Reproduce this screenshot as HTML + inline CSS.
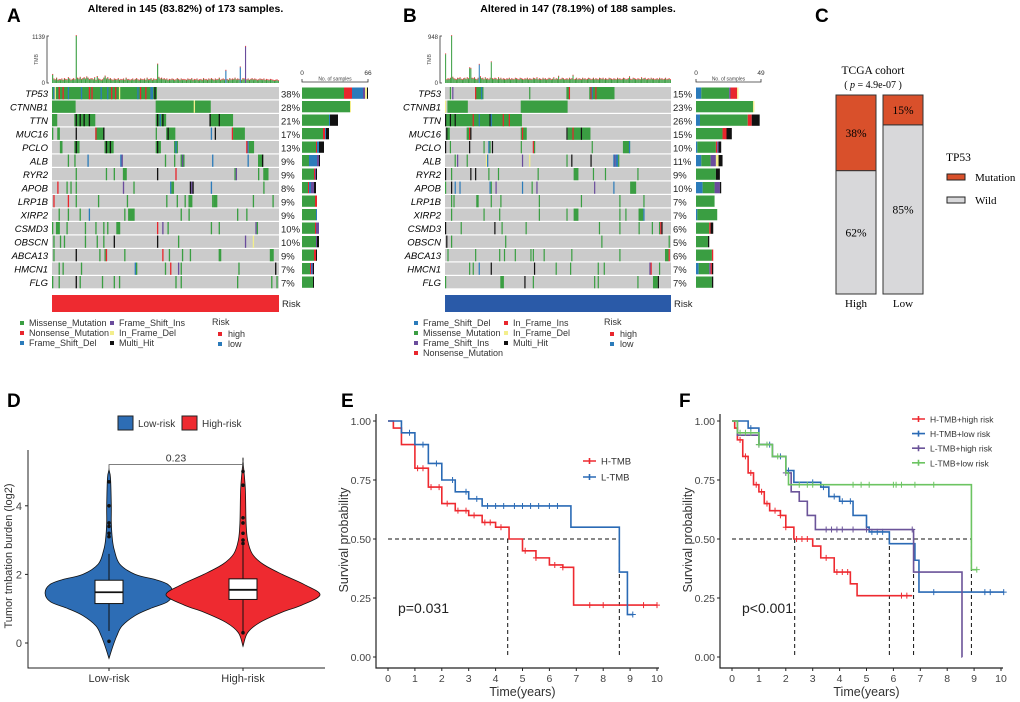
<!DOCTYPE html>
<html><head><meta charset="utf-8"><style>
html,body{margin:0;padding:0;background:#fff;}
svg{display:block;font-family:"Liberation Sans",sans-serif;}
</style></head><body>
<svg id="fig" width="1020" height="702" viewBox="0 0 1020 702" xmlns="http://www.w3.org/2000/svg">
<rect width="1020" height="702" fill="#fff"/>
<g font-weight="bold" font-size="19">
<text x="7" y="22">A</text>
<text x="403" y="22">B</text>
<text x="815" y="22">C</text>
<text x="7" y="407">D</text>
<text x="341" y="407">E</text>
<text x="679" y="407">F</text>
</g>
</svg>
<script>
const NS='http://www.w3.org/2000/svg';
const svg=document.getElementById('fig');
function mk(tag,attrs,parent){const e=document.createElementNS(NS,tag);for(const k in attrs)e.setAttribute(k,attrs[k]);(parent||svg).appendChild(e);return e;}
function tx(x,y,s,attrs,parent){const e=mk('text',Object.assign({x:x,y:y},attrs||{}),parent);e.textContent=s;return e;}
const COL={g:'#3a9e42',r:'#e8262d',b:'#2b7bba',p:'#6a4c9c',y:'#f3ee8c',k:'#111111'};

/* ---------------- Oncoplot data ---------------- */
const genesA=['TP53','CTNNB1','TTN','MUC16','PCLO','ALB','RYR2','APOB','LRP1B','XIRP2','CSMD3','OBSCN','ABCA13','HMCN1','FLG'];
const pctA=['38%','28%','21%','17%','13%','9%','9%','8%','9%','9%','10%','10%','9%','7%','7%'];
const genesB=['TP53','CTNNB1','TTN','MUC16','PCLO','ALB','RYR2','APOB','LRP1B','XIRP2','CSMD3','OBSCN','ABCA13','HMCN1','FLG'];
const pctB=['15%','23%','26%','15%','10%','11%','9%','10%','7%','7%','6%','5%','6%','7%','7%'];
// cells: [start,end,type]
const cellsA=[
[[0,79,'g'],[1,1,'b'],[2,2,'y'],[5,5,'r'],[8,8,'r'],[12,12,'b'],[22,22,'b'],[28,28,'r'],[30,30,'r'],[37,37,'b'],[42,42,'b'],[45,45,'r'],[48,48,'r'],[51,51,'y'],[65,65,'b'],[67,67,'r'],[71,71,'r'],[75,75,'b'],[76,76,'b'],[78,78,'k']],
[[0,17,'g'],[79,120,'g'],[108,108,'y']],
[[0,3,'g'],[17,32,'g'],[18,18,'k'],[21,21,'k'],[24,24,'k'],[28,28,'k'],[79,86,'g'],[80,80,'k'],[82,82,'b'],[84,84,'k'],[120,137,'g'],[120,120,'k'],[127,127,'k']],
[[0,0,'g'],[4,5,'g'],[18,18,'k'],[33,39,'g'],[33,33,'r'],[39,39,'k'],[79,79,'g'],[87,93,'g'],[88,88,'k'],[121,121,'b'],[124,124,'k'],[137,137,'r'],[138,146,'g']],
[[6,7,'g'],[17,20,'g'],[18,18,'k'],[40,46,'g'],[41,41,'k'],[44,44,'k'],[79,82,'g'],[80,80,'k'],[93,95,'g'],[94,94,'b'],[148,148,'r'],[149,149,'b'],[150,153,'g']],
[[12,12,'g'],[17,17,'g'],[27,27,'b'],[52,52,'b'],[53,53,'p'],[86,86,'g'],[93,93,'g'],[98,100,'g'],[99,99,'p'],[122,122,'b'],[149,149,'b'],[157,160,'g'],[160,160,'k']],
[[18,18,'g'],[41,41,'g'],[47,47,'g'],[54,56,'g'],[80,80,'k'],[94,94,'r'],[139,139,'g'],[140,140,'p'],[157,157,'g'],[161,164,'g']],
[[4,4,'r'],[11,11,'g'],[14,14,'g'],[18,18,'g'],[54,54,'p'],[62,62,'g'],[90,90,'b'],[91,92,'g'],[105,105,'k'],[106,106,'p'],[107,107,'k'],[121,121,'b'],[161,161,'g']],
[[1,1,'r'],[12,12,'r'],[18,18,'g'],[35,35,'g'],[57,57,'g'],[87,87,'g'],[95,95,'g'],[101,101,'g'],[104,106,'g'],[122,122,'g'],[123,125,'g'],[153,153,'g'],[168,168,'g']],
[[5,5,'g'],[12,12,'g'],[21,21,'g'],[28,28,'b'],[55,55,'g'],[58,62,'g'],[98,98,'g'],[104,104,'g'],[141,141,'g'],[148,148,'g']],
[[0,0,'g'],[3,5,'g'],[11,11,'g'],[25,25,'g'],[33,33,'g'],[39,39,'g'],[42,42,'g'],[49,51,'g'],[80,80,'r'],[84,84,'p'],[88,88,'g'],[121,121,'g'],[127,127,'g'],[155,155,'p'],[156,156,'g']],
[[1,1,'g'],[6,6,'g'],[9,9,'g'],[25,25,'g'],[34,34,'g'],[39,39,'g'],[47,47,'k'],[80,80,'k'],[96,96,'g'],[147,147,'p'],[153,153,'y']],
[[1,1,'g'],[18,18,'k'],[36,36,'g'],[40,40,'g'],[41,41,'r'],[55,55,'g'],[84,84,'r'],[89,89,'g'],[99,99,'g'],[105,105,'g'],[127,128,'g'],[166,168,'g']],
[[5,5,'g'],[8,8,'g'],[22,22,'g'],[63,63,'b'],[64,64,'g'],[86,86,'g'],[90,90,'r'],[96,96,'p'],[98,98,'g'],[142,142,'g'],[170,170,'k']],
[[0,0,'g'],[5,5,'g'],[18,18,'k'],[21,21,'g'],[38,38,'g'],[47,47,'g'],[51,51,'g'],[94,94,'g'],[98,98,'g'],[141,141,'g'],[167,167,'g'],[171,171,'g']]
];
const cellsB=[
[[4,4,'g'],[6,6,'p'],[25,31,'g'],[25,25,'r'],[30,30,'b'],[70,70,'g'],[101,103,'g'],[103,103,'r'],[120,140,'g'],[121,121,'r'],[122,122,'b'],[125,125,'r']],
[[0,0,'y'],[2,18,'g'],[63,101,'g']],
[[0,63,'g'],[0,0,'k'],[4,4,'k'],[8,8,'k'],[23,23,'r'],[28,28,'b'],[37,37,'k'],[38,38,'b'],[48,48,'r'],[53,53,'r']],
[[1,3,'g'],[1,1,'k'],[18,20,'g'],[20,20,'r'],[21,21,'k'],[63,67,'g'],[64,64,'r'],[101,101,'k'],[102,120,'g'],[106,106,'r'],[113,113,'k']],
[[0,0,'k'],[4,4,'g'],[20,20,'k'],[32,32,'g'],[36,36,'b'],[37,37,'g'],[39,39,'k'],[63,63,'g'],[73,73,'r'],[74,74,'g'],[122,122,'g'],[148,153,'g'],[153,153,'b']],
[[8,8,'g'],[10,10,'p'],[18,18,'g'],[34,34,'y'],[35,35,'b'],[64,64,'p'],[70,70,'y'],[101,101,'g'],[105,105,'k'],[121,121,'k'],[140,140,'b'],[141,141,'p'],[142,143,'b'],[144,144,'g']],
[[0,0,'k'],[5,5,'g'],[21,21,'k'],[25,25,'k'],[36,36,'g'],[44,44,'g'],[77,77,'g'],[107,110,'g'],[123,123,'g'],[133,133,'g'],[160,160,'g']],
[[0,0,'g'],[5,5,'k'],[8,8,'b'],[12,12,'b'],[37,37,'b'],[38,38,'g'],[42,42,'p'],[64,64,'b'],[72,72,'g'],[76,76,'p'],[124,124,'p'],[140,140,'b'],[154,158,'g']],
[[5,5,'g'],[7,7,'g'],[26,27,'g'],[38,38,'g'],[46,46,'g'],[78,78,'g'],[113,113,'g'],[145,145,'g'],[165,165,'g']],
[[5,5,'g'],[32,32,'g'],[45,45,'g'],[78,78,'g'],[101,101,'g'],[107,110,'g'],[145,145,'g'],[150,150,'g'],[161,164,'g'],[165,165,'b']],
[[0,0,'k'],[13,13,'g'],[41,41,'k'],[47,47,'g'],[67,67,'g'],[128,128,'g'],[145,145,'g'],[161,161,'g'],[172,172,'g'],[178,178,'g'],[179,179,'r'],[180,180,'k']],
[[1,1,'k'],[5,5,'g'],[50,50,'g'],[130,130,'g'],[186,186,'g']],
[[2,2,'g'],[25,25,'g'],[45,45,'g'],[49,49,'g'],[58,58,'g'],[71,71,'g'],[73,73,'g'],[82,82,'g'],[105,105,'g'],[145,145,'g'],[183,185,'g'],[186,186,'r']],
[[20,20,'g'],[23,23,'g'],[28,28,'b'],[38,38,'k'],[74,74,'k'],[92,92,'g'],[104,104,'g'],[127,127,'g'],[132,132,'g'],[170,170,'p'],[171,171,'r'],[178,178,'g']],
[[0,0,'g'],[46,48,'g'],[66,66,'k'],[73,73,'g'],[124,124,'g'],[127,127,'g'],[160,160,'g'],[173,176,'g'],[177,177,'k']]
];
// sample counts per gene by type (side bars)
const barsA=[
{g:42,r:8,b:11,p:2,y:2,k:1},{g:48,y:1},{g:27,b:1,k:8},{g:21,r:2,b:1,k:3},{g:14,r:1,b:2,k:5},
{g:7,b:8,p:2,k:1},{g:12,r:1,p:1,k:1},{g:6,r:1,b:2,p:3,k:2},{g:13,r:2},{g:14,b:1},
{g:13,r:1,p:3},{g:14,p:1,k:2},{g:12,r:2,k:1},{g:8,r:1,b:1,p:1,k:1},{g:11,k:1}];
const barsB=[
{b:4,g:21,p:1,r:5,y:1},{g:43,y:1},{b:3,g:36,r:3,k:6},{g:20,r:3,k:4},{b:1,g:14,r:1,p:1,k:2},
{b:4,g:7,p:4,y:2,k:3},{g:15,k:3},{b:5,g:9,p:4,k:1},{g:14},{b:1,g:15},
{g:10,r:1,k:2},{g:9,k:1},{g:12,r:1},{b:2,g:8,p:1,r:1,k:1},{g:12,k:1}];
const tmbA=[200,90,70,110,60,80,70,90,60,100,
80,70,120,90,60,80,100,70,1139,110,
90,130,80,100,120,90,140,110,80,90,
100,70,120,60,150,90,80,60,70,110,
160,90,120,80,100,70,60,90,80,70,
100,60,80,70,90,60,110,70,80,60,
70,90,60,80,100,70,60,90,80,70,
90,60,110,70,80,100,60,90,70,80,
450,130,90,110,80,100,70,90,60,80,
70,90,80,60,70,100,80,60,90,70,
80,70,60,90,80,70,100,60,80,70,
90,60,70,80,60,100,70,80,60,90,
70,100,80,60,90,70,80,110,60,80,
90,70,300,80,60,100,70,90,80,110,
70,90,80,380,60,100,90,880,70,90,
60,80,100,70,90,80,60,70,90,80,
70,90,60,80,70,60,80,70,60,50,
60,70,50];
const tmbAtype={132:'b',143:'b',147:'p'};
const tmbB=[580,60,80,70,90,948,110,80,70,60,
90,80,100,70,60,80,90,70,100,80,
300,290,90,80,100,70,60,90,370,120,
80,90,60,100,70,80,60,90,420,80,
70,90,80,60,100,70,90,60,80,70,
60,80,70,90,60,80,70,60,90,80,
70,60,90,80,70,60,80,70,90,60,
80,70,60,90,80,70,100,60,80,70,
60,90,70,80,60,70,90,80,60,70,
100,60,80,70,130,60,70,90,80,60,
70,80,60,90,70,80,150,60,70,90,
60,80,70,60,90,70,80,60,70,90,
80,60,70,90,60,80,70,60,90,80,
70,90,60,80,70,60,90,80,70,60,
80,70,60,90,70,80,60,70,90,80,
60,70,80,120,70,60,90,80,70,60,
80,70,60,100,70,80,90,60,70,80,
60,90,70,80,60,70,80,60,90,70,
80,60,70,90,60,70,80,60];
const tmbBtype={28:'b'};

function drawOnco(c){
  const g=mk('g',{});
  
  
  const n=c.n, w=(c.x1-c.x0)/n;
  const t=tx((c.x0+c.x1)/2+20,12,c.title,{'font-size':'10.5','font-weight':'bold','text-anchor':'middle'},g);
  
  
  // TMB
  const tb=36,bb=83;
  const ax=mk('path',{d:`M${c.x0-3} ${tb}h-2V${bb}h2`,stroke:'#333','stroke-width':'0.8',fill:'none'},g);
  
  
  const l1=tx(c.x0-7,tb+3,String(c.tmbMax),{'font-size':'6','text-anchor':'end',fill:'#333'},g);
  
  
  const l0=tx(c.x0-7,bb+2,'0',{'font-size':'6','text-anchor':'end',fill:'#333'},g);
  
  
  const lt=tx(0,0,'TMB',{'font-size':'5','text-anchor':'middle',fill:'#555',transform:`translate(${c.x0-14},${(tb+bb)/2}) rotate(-90)`},g);
  
  
  c.tmb.forEach((v,i)=>{
    const h=v/c.tmbMax*(bb-tb);
    const r=mk('rect',{x:c.x0+i*w+0.1,y:bb-h,width:Math.max(w*0.85,0.8),height:h,fill:COL[c.tmbType[i]||'g']},g);
    
    
    const cap=mk('rect',{x:c.x0+i*w+0.1,y:bb-h-0.8,width:Math.max(w*0.85,0.8),height:0.8,fill:'#e8262d'},g);
    
    
  });
  // rows
  const y0=87, rh=13.5;
  c.genes.forEach((gn,gi)=>{
    const y=y0+gi*rh;
    const bg=mk('rect',{x:c.x0,y:y,width:c.x1-c.x0,height:rh-1.2,fill:'#cbcbcb'},g);
    
    
    c.cells[gi].forEach(s=>{
      const cr=mk('rect',{x:c.x0+s[0]*w,y:y,width:Math.max((s[1]-s[0]+1)*w,1.2),height:rh-1.2,fill:COL[s[2]]},g);
      
      
    });
    const gl=tx(c.x0-4,y+rh/2+3,gn,{'font-size':'9.5','font-style':'italic','text-anchor':'end'},g);
    
    
    const pl=tx(c.x1+2,y+rh/2+3.5,c.pct[gi],{'font-size':'9.5',fill:'#222'},g);
    
    
    let bx=c.bx0; const sc=(c.bx1-c.bx0)/c.barMax;
    for(const k in c.bars[gi]){
      const bw=c.bars[gi][k]*sc;
      const br=mk('rect',{x:bx,y:y+0.5,width:bw,height:rh-2.2,fill:COL[k]},g);
      
      
      bx+=bw;
    }
  });
  // side axis
  const sa=mk('path',{d:`M${c.bx0} 79v3H${c.bx1}v-3`,stroke:'#333','stroke-width':'0.8',fill:'none'},g);
  
  
  const s0=tx(c.bx0,75,'0',{'font-size':'6.5','text-anchor':'middle',fill:'#333'},g);
  
  
  const s1=tx(c.bx1,75,String(c.barMax),{'font-size':'6.5','text-anchor':'middle',fill:'#333'},g);
  
  
  const st=tx((c.bx0+c.bx1)/2,80.5,'No. of samples',{'font-size':'5','text-anchor':'middle',fill:'#444'},g);
  
  
  // risk bar
  const rb=mk('rect',{x:c.x0,y:295,width:c.x1-c.x0,height:17,fill:c.riskCol},g);
  
  
  const rl=tx(c.x1+3,307,'Risk',{'font-size':'9.5',fill:'#222'},g);
  
  
  // legend
  c.legend.forEach(it=>{
    const sq=mk('rect',{x:it[0],y:it[1]-5,width:4,height:4,fill:COL[it[3]]},g);
    
    
    const lt2=tx(it[0]+9,it[1],it[2],{'font-size':'9',fill:'#333'},g);
    
    
  });
  const rk=tx(c.riskX,325,'Risk',{'font-size':'9',fill:'#333'},g);
  
  
  [['high','r',337],['low','b',347]].forEach(it=>{
    const sq=mk('rect',{x:c.riskX+6,y:it[2]-5,width:4,height:4,fill:COL[it[1]]},g);
    
    
    const lt3=tx(c.riskX+16,it[2],it[0],{'font-size':'9',fill:'#333'},g);
    
    
  });
}
drawOnco({name:'oncoplot-high-risk',title:'Altered in 145 (83.82%) of 173 samples.',n:173,x0:52,x1:279,genes:genesA,pct:pctA,cells:cellsA,bars:barsA,barMax:66,bx0:302,bx1:368,tmb:tmbA,tmbType:tmbAtype,tmbMax:1139,riskCol:'#ee2a30',riskX:212,
 legend:[[20,326,'Missense_Mutation','g'],[20,336,'Nonsense_Mutation','r'],[20,346,'Frame_Shift_Del','b'],[110,326,'Frame_Shift_Ins','p'],[110,336,'In_Frame_Del','y'],[110,346,'Multi_Hit','k']]});
drawOnco({name:'oncoplot-low-risk',title:'Altered in 147 (78.19%) of 188 samples.',n:188,x0:445,x1:671,genes:genesB,pct:pctB,cells:cellsB,bars:barsB,barMax:49,bx0:696,bx1:761,tmb:tmbB,tmbType:tmbBtype,tmbMax:948,riskCol:'#2a5aa8',riskX:604,
 legend:[[414,326,'Frame_Shift_Del','b'],[414,336,'Missense_Mutation','g'],[414,346,'Frame_Shift_Ins','p'],[414,356,'Nonsense_Mutation','r'],[504,326,'In_Frame_Ins','r'],[504,336,'In_Frame_Del','y'],[504,346,'Multi_Hit','k']]});

/* ---------------- Panel C ---------------- */
const cGroups=['High','Low'];
const cMut=[38,15];
const cWild=[62,85];
(function(){
  const g=mk('g',{'font-family':'"Liberation Serif",serif'});
  
  
  const top=95,bot=294,bw=40,xs=[836,883];
  const sy=v=>bot-v/100*(bot-top);
  const t1=tx(873,74,'TCGA cohort',{'font-size':'11.5','text-anchor':'middle'},g);
  
  
  const t2=mk('text',{x:873,y:88,'font-size':'10','text-anchor':'middle'},g);
  t2.innerHTML='( <tspan font-style="italic">p</tspan> = 4.9e-07 )';
  
  
  cGroups.forEach((gr,i)=>{
    const x=xs[i];
    const w1=mk('rect',{x:x,y:sy(cWild[i]),width:bw,height:sy(0)-sy(cWild[i]),fill:'#d8d8da',stroke:'#333','stroke-width':'1'},g);
    
    
    const m1=mk('rect',{x:x,y:sy(100),width:bw,height:sy(cWild[i])-sy(100),fill:'#d9502b',stroke:'#333','stroke-width':'1'},g);
    
    
    const ml=tx(x+bw/2,(sy(100)+sy(cWild[i]))/2+4,cMut[i]+'%',{'font-size':'11.5','text-anchor':'middle'},g);
    
    
    const wl=tx(x+bw/2,(sy(cWild[i])+sy(0))/2+4,cWild[i]+'%',{'font-size':'11.5','text-anchor':'middle'},g);
    
    
    const xl=tx(x+bw/2,307,gr,{'font-size':'11','text-anchor':'middle'},g);
    
    
  });
  const lt=tx(946,161,'TP53',{'font-size':'11.5'},g);
  
  
  [['Mutation','#d9502b',178],['Wild','#d8d8da',201]].forEach(it=>{
    const r=mk('rect',{x:947,y:it[2]-4,width:18,height:6,fill:it[1],stroke:'#222','stroke-width':'1'},g);
    
    
    const l=tx(975,it[2]+3,it[0],{'font-size':'11'},g);
    
    
  });
})();

/* ---------------- Panel D ---------------- */
const dGroups=['Low-risk','High-risk'];
const dDensVals=[[-0.45,-0.1,0.2,0.5,0.8,1.0,1.2,1.45,1.7,1.85,2.0,2.3,2.7,3.0,3.5,4.0,4.8,5.05],[-0.1,0.3,0.6,0.9,1.1,1.4,1.7,2.0,2.3,2.6,3.0,3.5,4.5,5.3]];
const dDens=[[0,0.05,0.1,0.17,0.34,0.53,0.76,0.83,0.77,0.6,0.34,0.14,0.07,0.045,0.03,0.03,0.02,0],[0,0.06,0.22,0.51,0.76,1.0,0.8,0.51,0.26,0.12,0.06,0.04,0.03,0]];
const dQ1=[1.15,1.27], dMed=[1.48,1.55], dQ3=[1.83,1.87], dWlo=[0.35,0.35], dWhi=[2.6,2.85];
const dOut=[[0.05,3.1,3.2,3.4,3.5,4.0,4.7],[0.3,2.9,3.0,3.2,3.5,3.65,4.6,5.0]];
const dTicks=[0,2,4];
const dPval='0.23';
(function(){
  const g=mk('g',{});
  
  
  const sy=v=>643-v*34.3;
  const cx=[109,243], fills=['#2d6db5','#ee2a30'], maxW=77;
  const ax=mk('path',{d:'M28 450V668H325',stroke:'#222','stroke-width':'1',fill:'none'},g);
  
  
  dTicks.forEach(v=>{
    const tk=mk('line',{x1:25,x2:28,y1:sy(v),y2:sy(v),stroke:'#222'},g);
    
    
    const tl=tx(22,sy(v)+4,String(v),{'font-size':'11','text-anchor':'end',fill:'#444'},g);
    
    
  });
  const yt=tx(0,0,'Tumor tmbation burden (log2)',{'font-size':'11','text-anchor':'middle',fill:'#333',transform:'translate(12,556) rotate(-90)'},g);
  
  
  function smooth(pts){let d='M'+pts[0][0]+' '+pts[0][1];for(let i=0;i<pts.length-1;i++){const p0=pts[Math.max(i-1,0)],p1=pts[i],p2=pts[i+1],p3=pts[Math.min(i+2,pts.length-1)];d+=` C${p1[0]+(p2[0]-p0[0])/6} ${p1[1]+(p2[1]-p0[1])/6} ${p2[0]-(p3[0]-p1[0])/6} ${p2[1]-(p3[1]-p1[1])/6} ${p2[0]} ${p2[1]}`;}return d;}
  dGroups.forEach((gr,i)=>{
    const right=dDensVals[i].map((v,j)=>[cx[i]+dDens[i][j]*maxW,sy(v)]);
    const left=dDensVals[i].map((v,j)=>[cx[i]-dDens[i][j]*maxW,sy(v)]).reverse();
    const pts=right.concat(left);
    const vp=mk('path',{d:smooth(pts)+'Z',fill:fills[i],stroke:'#111','stroke-width':'0.8'},g);
    
    
    const wl=mk('line',{x1:cx[i],x2:cx[i],y1:sy(dWlo[i]),y2:sy(dWhi[i]),stroke:'#111','stroke-width':'1'},g);
    
    
    const bx=mk('rect',{x:cx[i]-14,y:sy(dQ3[i]),width:28,height:sy(dQ1[i])-sy(dQ3[i]),fill:'#fff',stroke:'#111','stroke-width':'1'},g);
    
    
    const md=mk('line',{x1:cx[i]-14,x2:cx[i]+14,y1:sy(dMed[i]),y2:sy(dMed[i]),stroke:'#111','stroke-width':'1.8'},g);
    
    
    dOut[i].forEach(v=>{
      const o=mk('circle',{cx:cx[i],cy:sy(v),r:1.8,fill:'#111'},g);
      
      
    });
    const tk=mk('line',{x1:cx[i],x2:cx[i],y1:668,y2:671,stroke:'#222'},g);
    
    
    const xl=tx(cx[i],682,gr,{'font-size':'11','text-anchor':'middle',fill:'#333'},g);
    
    
  });
  const br=mk('path',{d:`M${cx[0]} ${sy(5.05)}V${sy(5.2)}H${cx[1]}V${sy(5.05)}`,stroke:'#555','stroke-width':'0.8',fill:'none'},g);
  
  
  const pv=tx((cx[0]+cx[1])/2,sy(5.2)-3,dPval,{'font-size':'10.5','text-anchor':'middle',fill:'#333'},g);
  
  
  [['Low-risk','#2d6db5',118],['High-risk','#ee2a30',182]].forEach(it=>{
    const r=mk('rect',{x:it[2],y:416,width:15,height:14,fill:it[1],stroke:'#222','stroke-width':'1'},g);
    
    
    const l=tx(it[2]+20,427,it[0],{'font-size':'10',fill:'#333'},g);
    
    
  });
})();

/* ---------------- Panels E & F (Kaplan–Meier) ---------------- */
const eNames=['H-TMB','L-TMB'];
const eTimes=[[0,0.2,0.5,1,1.5,2,2.5,3,3.5,4,4.5,5,5.5,6,6.5,6.9,10],[0,0.5,1,1.5,2,2.5,3,3.5,6.8,8.6,8.9,9.1]];
const eSurv=[[1,0.97,0.9,0.8,0.72,0.65,0.62,0.6,0.57,0.55,0.5,0.45,0.42,0.39,0.38,0.22,0.22],[1,0.95,0.9,0.82,0.75,0.7,0.67,0.64,0.55,0.36,0.18,0.18]];
const eCens=[[1.1,1.3,1.6,1.9,2.2,2.6,2.9,3.2,3.6,3.8,4.2,5.1,5.5,6.2,6.5,7.5,8,9.5,10],[0.8,1.3,1.8,2.4,2.9,3.3,3.7,4,4.3,4.7,5,5.3,5.6,6,6.3,9.1]];
const eMedians=[4.45,8.6];
const fNames=['H-TMB+high risk','H-TMB+low risk','L-TMB+high risk','L-TMB+low risk'];
const fTimes=[[0,0.1,0.2,0.4,0.6,0.8,1,1.2,1.4,1.8,2,2.3,3,3.3,3.8,4.4,4.65,6.7],
[0,0.6,1,1.5,2,2.3,3.3,3.6,4,4.5,5,5.1,5.85,6.8,6.95,10.1],
[0,0.2,1,1.5,2,2.2,2.5,2.8,3.1,6.75,8.55,8.56],
[0,0.2,1,1.5,2,2.1,8.9,9.1]];
const fSurv=[[1,0.97,0.92,0.85,0.78,0.73,0.7,0.65,0.62,0.6,0.55,0.5,0.47,0.42,0.36,0.31,0.26,0.26],
[1,0.97,0.9,0.85,0.79,0.74,0.72,0.68,0.66,0.6,0.55,0.53,0.48,0.41,0.275,0.275],
[1,0.94,0.9,0.85,0.78,0.7,0.66,0.6,0.54,0.36,0,0],
[1,0.95,0.9,0.85,0.78,0.73,0.37,0.37]];
const fCens=[[0.3,0.5,0.7,0.9,1.1,1.3,1.6,1.8,2.0,2.4,2.6,2.8,3.5,3.9,4.1,4.3,6.3,6.5],
[0.7,1.4,1.8,2.1,3.0,3.4,3.8,4.1,4.4,5.2,5.4,5.6,7.5,9.4,9.6,10.1],
[1,2,3.5,3.7,3.9,4.1,4.5,5,6.7],
[0.3,0.5,0.7,1.0,1.3,1.7,2.5,2.8,3.0,4.5,4.8,5.1,6,6.1,6.3,6.8,7.5,9.1]];
const fMedians=[2.33,5.85,6.75,8.9];
const kmTicksX=[0,1,2,3,4,5,6,7,8,9,10];
const kmTicksY=[0,0.25,0.5,0.75,1];

function drawKM(c){
  const g=mk('g',{});
  
  
  const sx=t=>c.ox+12+t*26.9, sy=s=>657-s*236;
  const ax=mk('path',{d:`M${c.ox} 414V668H${c.ox+283}`,stroke:'#222','stroke-width':'1.2',fill:'none'},g);
  
  
  kmTicksY.forEach(v=>{
    const tk=mk('line',{x1:c.ox-3,x2:c.ox,y1:sy(v),y2:sy(v),stroke:'#222'},g);
    
    
    const tl=tx(c.ox-5,sy(v)+4,v.toFixed(2),{'font-size':'10.5','text-anchor':'end',fill:'#444'},g);
    
    
  });
  kmTicksX.forEach(v=>{
    const tk=mk('line',{x1:sx(v),x2:sx(v),y1:668,y2:671,stroke:'#222'},g);
    
    
    const tl=tx(sx(v),682,String(v),{'font-size':'10.5','text-anchor':'middle',fill:'#444'},g);
    
    
  });
  const xt=tx(sx(5),696,'Time(years)',{'font-size':'12.5','text-anchor':'middle',fill:'#333'},g);
  
  
  const yt=tx(0,0,'Survival probability',{'font-size':'12.5','text-anchor':'middle',fill:'#333',transform:`translate(${c.ox-28},540) rotate(-90)`},g);
  
  
  // median reference lines
  const maxMed=Math.max.apply(null,c.medians);
  const hl=mk('line',{x1:sx(0),x2:sx(maxMed),y1:sy(0.5),y2:sy(0.5),stroke:'#111','stroke-dasharray':'4 3','stroke-width':'1'},g);
  
  
  c.medians.forEach(m=>{
    const vl=mk('line',{x1:sx(m),x2:sx(m),y1:sy(0.5),y2:sy(0),stroke:'#111','stroke-dasharray':'4 3','stroke-width':'1'},g);
    
    
  });
  function survAt(ti,su,t){let s=su[0];for(let i=0;i<ti.length;i++){if(ti[i]<=t)s=su[i];}return s;}
  c.names.forEach((nm,i)=>{
    const ti=c.times[i], su=c.surv[i];
    let d=`M${sx(ti[0])} ${sy(su[0])}`;
    for(let j=1;j<ti.length;j++){d+=`H${sx(ti[j])}V${sy(su[j])}`;}
    const p=mk('path',{d:d,fill:'none',stroke:c.cols[i],'stroke-width':'1.6'},g);
    
    
    c.cens[i].forEach(t=>{
      const s=survAt(ti,su,t);
      const cm=mk('path',{d:`M${sx(t)} ${sy(s)-3}v6M${sx(t)-3} ${sy(s)}h6`,stroke:c.cols[i],'stroke-width':'1'},g);
      
      
    });
    const ly=c.legY+i*c.legDy;
    const ll=mk('path',{d:`M${c.legX} ${ly}h13M${c.legX+6.5} ${ly-3}v6`,stroke:c.cols[i],'stroke-width':'1.6'},g);
    
    
    const lt=tx(c.legX+18,ly+3.5,nm,{'font-size':c.legFs,fill:'#333'},g);
    
    
  });
  const pv=tx(c.ox+22,613,c.p,{'font-size':'14',fill:'#222'},g);
  
  
}
drawKM({name:'km-plot-tmb',ox:376,names:eNames,times:eTimes,surv:eSurv,cens:eCens,medians:eMedians,cols:['#ee2a30','#2a6ab5'],legX:583,legY:461,legDy:16,legFs:'9.5',p:'p=0.031'});
drawKM({name:'km-plot-tmb-risk',ox:720,names:fNames,times:fTimes,surv:fSurv,cens:fCens,medians:fMedians,cols:['#ee2a30','#2a6ab5','#6b5499','#6cc462'],legX:912,legY:419,legDy:14.6,legFs:'8.5',p:'p<0.001'});
</script>
</body></html>
